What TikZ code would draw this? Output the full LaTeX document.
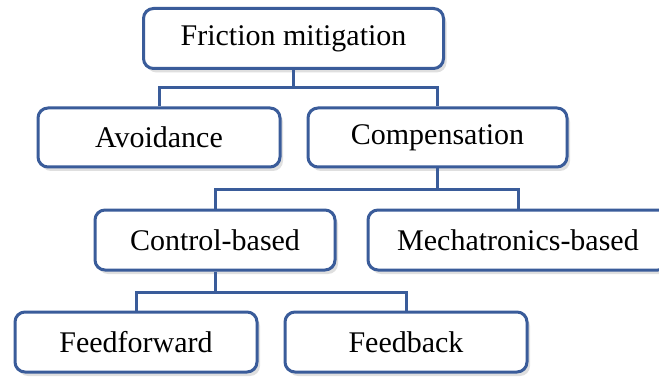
\documentclass[tikz,border=0pt]{standalone}
\usepackage{fontspec}
\setmainfont{Liberation Serif}
\usetikzlibrary{shadows}
\definecolor{bordblue}{RGB}{58,92,154}
\tikzset{
  box/.style={draw=bordblue, line width=3pt, rounded corners=10pt, fill=white,
    rectangle, inner sep=0pt, minimum height=60pt,
    font=\fontsize{30}{36}\selectfont,
    drop shadow={opacity=0.25, shadow xshift=3pt, shadow yshift=-4pt}},
  link/.style={draw=bordblue, line width=3pt}
}
\begin{document}
\begin{tikzpicture}[x=1pt,y=-1pt]
\clip (0,0) rectangle (659,377);
\fill[white] (0,0) rectangle (659,377);
\node[box, minimum width=300pt] (fm) at (293.5,38.5) {Friction mitigation};
\node[box, minimum width=242pt, minimum height=59pt] (av) at (159,137.5) {Avoidance};
\node[box, minimum width=259pt, minimum height=59pt] (co) at (437.5,137.5) {Compensation};
\node[box, minimum width=240pt] (cb) at (215,240) {Control-based};
\node[box, minimum width=300pt] (mb) at (518,240) {Mechatronics-based};
\node[box, minimum width=242pt] (ff) at (136,342) {Feedforward};
\node[box, minimum width=242pt] (fb) at (406,342) {Feedback};
\coordinate (j1) at (293.5,88);
\coordinate (j2) at (437.5,190);
\coordinate (j3) at (215,292);
\begin{scope}[on background layer/.try]
\end{scope}
\draw[link] (fm.south) -- (j1);
\draw[link] (av.north) |- (j1) -| (co.north);
\draw[link] (co.south) -- (j2);
\draw[link] (cb.north) |- (j2) -| (mb.north);
\draw[link] (cb.south) -- (j3);
\draw[link] (ff.north) |- (j3) -| (fb.north);
\end{tikzpicture}
\end{document}
